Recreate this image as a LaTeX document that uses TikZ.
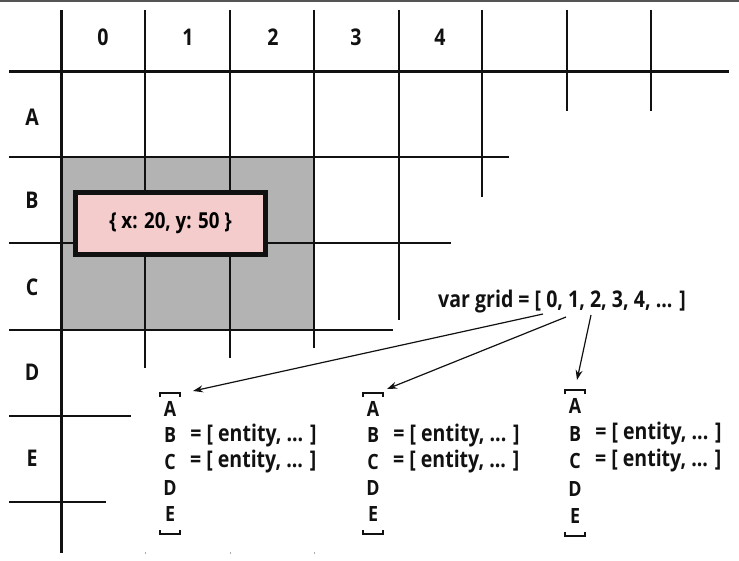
\documentclass[tikz,border=0pt]{standalone}
\usepackage{fontspec}
\setmainfont{Open Sans}[FakeStretch=0.85]
\usetikzlibrary{arrows.meta}
\definecolor{ink}{HTML}{111111}
\definecolor{frame}{HTML}{555555}
\definecolor{cellgray}{HTML}{B3B3B3}
\definecolor{boxpink}{HTML}{F4CCCC}
\tikzset{
  >=Stealth, font=\bfseries,
  major/.style={draw=ink, line width=3pt},
  minor/.style={draw=ink, line width=1.4pt},
  lab/.style={font=\fontsize{23}{23}\selectfont\bfseries, text=ink, inner sep=0pt},
  sub/.style={font=\fontsize{21}{21}\selectfont\bfseries, text=ink, inner sep=0pt},
  tag/.style={font=\fontsize{23}{23}\selectfont\bfseries, text=ink, inner sep=0pt, anchor=west},
  card/.style={draw=ink, fill=boxpink, line width=5pt, minimum width=190pt, minimum height=62pt, inner sep=0pt},
  flow/.style={-{Stealth[length=10pt, width=7pt]}, draw=ink, line width=1.2pt},
  brace/.style={draw=ink, line width=2.4pt},
}
\def\gridCols{0/103, 1/188, 2/273, 3/356, 4/440}
\def\gridRows{A/117, B/200, C/287, D/372, E/458}
\def\gridVert{145/368, 230/358, 314/348, 399/320, 482/197, 567/111, 651/111}
\def\gridHorz{157/509, 243/451, 330/393, 416/131, 502/106}

\begin{document}
\begin{tikzpicture}[x=1pt, y=-1pt]
  \useasboundingbox (0,0) rectangle (739,560);
  \draw[frame, line width=1.5pt] (0,0.75) -- (739,0.75);
  % occupied cells
  \fill[cellgray] (61,157) rectangle (314,330);
  \foreach \x/\y in \gridVert { \draw[minor] (\x,10) -- (\x,\y); }
  \foreach \y/\x in \gridHorz { \draw[minor] (9,\y) -- (\x,\y); }
  \draw[major] (61,10) -- (61,553);
  \draw[major] (9,71) -- (729,71);
  \foreach \x in {145,230,314} { \draw[ink!35, line width=0.8pt] (\x,552) -- (\x,554); }
  \foreach \n/\x in \gridCols { \node[lab] (c\n) at (\x,37) {\n}; }
  \foreach \n/\y in \gridRows { \node[lab] (r\n) at (32,\y) {\n}; }
  \node[card] (pos) at (170.5,223.5) {\fontsize{22}{22}\selectfont\bfseries \{ x: 20, y: 50 \}};
  \node[lab, font=\fontsize{23}{23}\selectfont\bfseries] (grid) at (562,302) {var grid = [ 0, 1, 2, 3, 4, ... ]};
  % one list per column
  \foreach \k/\x/\t/\s in {1/170/393/26.25, 2/373/393/26.25, 3/575/390/27.5} {
    \draw[brace] (\x-10,\t+4) -- (\x-10,\t) -- (\x+10,\t) -- (\x+10,\t+4);
    \foreach \m [count=\i] in {A,B,C,D,E} {
      \node[sub] (l\k\m) at (\x,{\t+16+(\i-1)*\s}) {\m};
    }
    \draw[brace] (\x-10,{\t+16+4*\s+16}) -- (\x-10,{\t+16+4*\s+20}) -- (\x+10,{\t+16+4*\s+20}) -- (\x+10,{\t+16+4*\s+16});
    \node[tag] (e\k B) at ([xshift=14pt]l\k B.east) {= [ entity, ... ]};
    \node[tag] (e\k C) at ([xshift=14pt]l\k C.east) {= [ entity, ... ]};
  }
  \coordinate (g0) at (543,314);
  \coordinate (g1) at (566,317);
  \coordinate (g2) at (591,315);
  \coordinate (t1) at (193,391);
  \coordinate (t2) at (387,389);
  \coordinate (t3) at (577,380);
  \draw[flow] (g0) -- (t1);
  \draw[flow] (g1) -- (t2);
  \draw[flow] (g2) -- (t3);
\end{tikzpicture}
\end{document}
